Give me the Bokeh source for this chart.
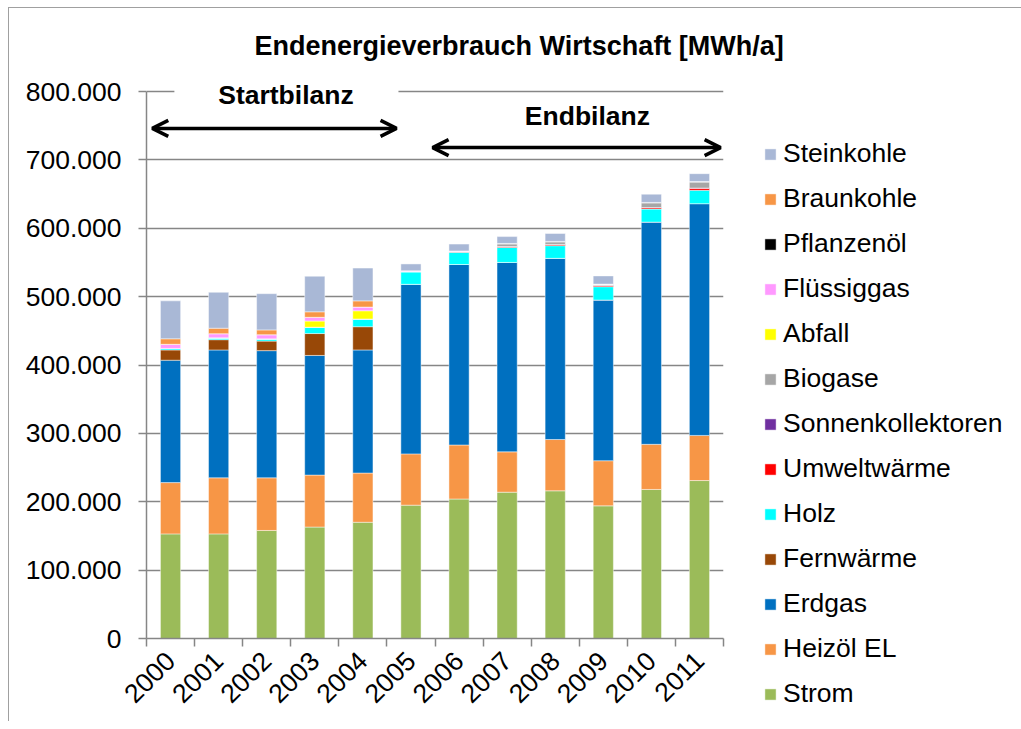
import math
from bokeh.plotting import figure
from bokeh.models import (Range1d, FixedTicker, CustomJSTickFormatter, Legend, LegendItem,
                          Label, Arrow, OpenHead, BoxAnnotation, ColumnDataSource)
from bokeh.embed import file_html
from bokeh.resources import INLINE

years = [2000, 2001, 2002, 2003, 2004, 2005, 2006, 2007, 2008, 2009, 2010, 2011]

# values in MWh/a
strom = [153000, 153000, 158000, 163000, 170000, 195000, 204000, 214000, 216000, 194000, 218000, 231000]
heizoel = [75000, 82000, 77000, 76000, 72000, 75000, 79000, 59000, 75000, 66000, 66000, 66000]
erdgas = [179000, 187000, 186000, 175000, 180000, 248000, 264000, 277000, 265000, 235000, 325000, 339000]
fernwaerme = [15000, 15000, 14000, 32000, 34000, 0, 0, 0, 0, 0, 0, 0]
holz = [2000, 2500, 3000, 9000, 11000, 18000, 18000, 22000, 18500, 19500, 19000, 19500]
umweltwaerme = [0, 0, 0, 0, 0, 500, 500, 1000, 1500, 1500, 2000, 3000]
sonnenkollektoren = [300, 300, 300, 300, 300, 300, 300, 300, 300, 300, 300, 300]
biogase = [0, 0, 0, 0, 0, 0, 0, 4000, 4000, 1500, 7000, 9000]
abfall = [0, 0, 0, 9000, 12000, 0, 0, 0, 0, 0, 0, 0]
fluessiggas = [6000, 6000, 6000, 5500, 5500, 1000, 1000, 500, 500, 500, 500, 500]
pflanzenoel = [0, 0, 0, 0, 0, 0, 0, 0, 0, 0, 0, 0]
braunkohle = [8000, 8000, 7000, 8000, 9000, 0, 0, 0, 0, 0, 0, 0]
steinkohle = [55500, 52500, 53000, 52000, 48000, 10000, 10000, 10000, 11500, 12000, 12000, 11500]

series_names = ["Strom", "Heizöl EL", "Erdgas", "Fernwärme", "Holz", "Umweltwärme",
                "Sonnenkollektoren", "Biogase", "Abfall", "Flüssiggas", "Pflanzenöl",
                "Braunkohle", "Steinkohle"]
series_values = [strom, heizoel, erdgas, fernwaerme, holz, umweltwaerme, sonnenkollektoren,
                 biogase, abfall, fluessiggas, pflanzenoel, braunkohle, steinkohle]
series_colors = ["#9BBB59", "#F79646", "#0070C0", "#984807", "#00FFFF", "#FF0000",
                 "#7030A0", "#A6A6A6", "#FFFF00", "#FF99FF", "#000000", "#F79646", "#A9B8D6"]

y_ticks = [0, 100000, 200000, 300000, 400000, 500000, 600000, 700000, 800000]
y_max_tick = 800000

FONT = "Liberation Sans"
FS = "26.5px"
GRAY = "#868686"

data = {"year": years}
for n, v in zip(series_names, series_values):
    data[n] = v
source = ColumnDataSource(data)

# frame extends a bit above the top tick so that the labels above it are not clipped
y_end = y_max_tick * (638 - 78) / (638 - 91)

p = figure(frame_width=577, frame_height=560, output_backend="svg", toolbar_location=None,
           x_range=Range1d(years[0] - 0.5, years[-1] + 0.5), y_range=Range1d(0, y_end),
           min_border_left=137, min_border_right=0, min_border_top=70, min_border_bottom=83)
p.styles = {"margin-left": "8px", "margin-top": "7px",
            "border-top": "1px solid #a0a0a0", "border-left": "1px solid #a0a0a0"}
p.outline_line_color = None
p.background_fill_color = "white"
p.border_fill_color = "white"

renderers = p.vbar_stack(series_names, x="year", width=0.42, color=series_colors,
                         source=source, line_color="white", line_alpha=0.45, line_width=1)

# title
p.title.text = "Endenergieverbrauch Wirtschaft [MWh/a]"
p.title.text_font = FONT
p.title.text_font_size = "27px"
p.title.text_font_style = "bold"
p.title.text_color = "black"
p.title.align = "left"
p.title.offset = 108
p.title.vertical_align = "middle"
p.title.standoff = 34

# axes
p.xaxis.ticker = FixedTicker(ticks=years, minor_ticks=[y - 0.5 for y in years] + [years[-1] + 0.5])
p.xaxis.formatter = CustomJSTickFormatter(code="return tick.toFixed(0);")
p.xaxis.major_label_orientation = math.pi / 4
p.xaxis.major_tick_out = 0
p.xaxis.major_tick_in = 0
p.xaxis.minor_tick_out = 8
p.xaxis.minor_tick_in = 0
p.xaxis.minor_tick_line_color = GRAY
p.xaxis.minor_tick_line_width = 1.5
p.xaxis.axis_line_color = GRAY
p.xaxis.axis_line_width = 1.5
p.xaxis.major_label_text_font = FONT
p.xaxis.major_label_text_font_size = FS
p.xaxis.major_label_text_color = "black"
p.xaxis.major_label_standoff = 10

p.yaxis.ticker = FixedTicker(ticks=y_ticks)
p.yaxis.bounds = (0, y_max_tick)
p.yaxis.formatter = CustomJSTickFormatter(
    code="return Math.round(tick).toString().replace(/\\B(?=(\\d{3})+(?!\\d))/g, '.');")
p.yaxis.major_tick_out = 8
p.yaxis.major_tick_in = 0
p.yaxis.minor_tick_out = 0
p.yaxis.minor_tick_in = 0
p.yaxis.major_tick_line_color = GRAY
p.yaxis.major_tick_line_width = 1.5
p.yaxis.axis_line_color = GRAY
p.yaxis.axis_line_width = 1.5
p.yaxis.major_label_text_font = FONT
p.yaxis.major_label_text_font_size = FS
p.yaxis.major_label_text_color = "black"
p.yaxis.major_label_standoff = 17

p.xgrid.visible = False
p.ygrid.grid_line_color = GRAY
p.ygrid.grid_line_width = 1.5

# white text box over the top grid line
p.add_layout(BoxAnnotation(left=2000.08, right=2004.74, bottom=775000, top=812000,
                           fill_color="white", fill_alpha=1.0, line_alpha=0))

p.add_layout(Label(x=2002.40, y=795000, text="Startbilanz", text_font=FONT,
                   text_font_size=FS, text_font_style="bold", text_align="center",
                   text_baseline="middle", text_color="black"))
p.add_layout(Label(x=2008.67, y=763500, text="Endbilanz", text_font=FONT,
                   text_font_size=FS, text_font_style="bold", text_align="center",
                   text_baseline="middle", text_color="black"))

p.add_layout(Arrow(start=OpenHead(size=16, line_width=3.5, line_color="black"),
                   end=OpenHead(size=16, line_width=3.5, line_color="black"),
                   x_start=1999.62, y_start=746000, x_end=2004.70, y_end=746000,
                   line_width=3.5, line_color="black"))
p.add_layout(Arrow(start=OpenHead(size=16, line_width=3.5, line_color="black"),
                   end=OpenHead(size=16, line_width=3.5, line_color="black"),
                   x_start=2005.45, y_start=718000, x_end=2011.44, y_end=718000,
                   line_width=3.5, line_color="black"))

# legend (top entry = top of stack), placed in the right side panel
items = [LegendItem(label=n, renderers=[r]) for n, r in zip(series_names, renderers)]
items.reverse()
legend = Legend(items=items, location=(40, -71), padding=0, margin=0,
                glyph_width=14, glyph_height=14, label_standoff=6,
                label_height=30, spacing=14,
                label_text_font=FONT, label_text_font_size=FS, label_text_color="black",
                background_fill_alpha=0, border_line_color=None)
p.add_layout(legend, "right")

open("out.html", "w").write(file_html(p, INLINE))
